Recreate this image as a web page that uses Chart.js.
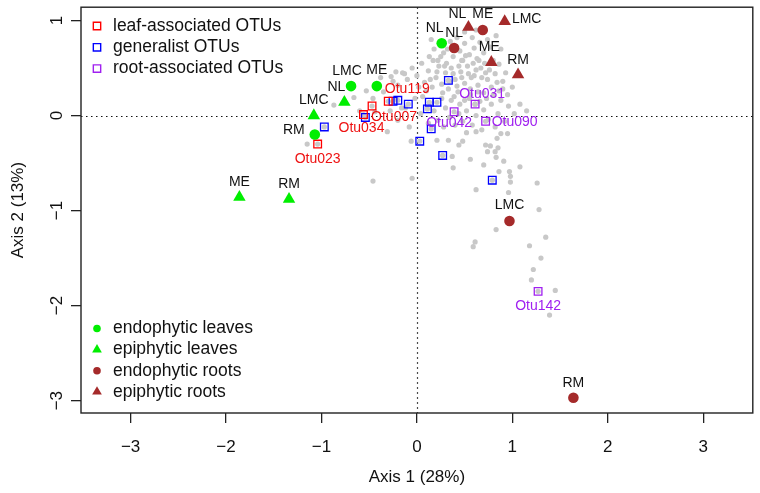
<!DOCTYPE html>
<html>
<head>
<meta charset="utf-8">
<script src="https://cdn.jsdelivr.net/npm/chart.js@4.4.1/dist/chart.umd.min.js"></script>
<style>html,body{margin:0;padding:0;background:#fff}</style>
</head>
<body>
<canvas id="ordination" width="760" height="493"></canvas>
<script>
// axis ticks
const xTicks = [-3, -2, -1, 0, 1, 2, 3];
const yTicks = [-3, -2, -1, 0, 1];

// sample scores (site order: LMC, ME, NL, RM)
const sites = ['LMC', 'ME', 'NL', 'RM'];
const endoLeaves = [[-0.69, 0.31], [-0.42, 0.31], [0.26, 0.76], [-1.07, -0.20]];
const epiLeaves = [[-1.08, 0.00], [-1.86, -0.86], [-0.76, 0.14], [-1.34, -0.88]];
const endoRoots = [[0.97, -1.11], [0.69, 0.90], [0.39, 0.71], [1.64, -2.97]];
const epiRoots = [[0.92, 0.99], [0.78, 0.56], [0.54, 0.93], [1.06, 0.43]];

// highlighted OTUs
const leafOtuNames = ['Otu023', 'Otu034', 'Otu007', 'Otu119'];
const leafOtus = [[-1.04, -0.30], [-0.56, 0.01], [-0.47, 0.10], [-0.30, 0.15]];
const rootOtuNames = ['Otu031', 'Otu042', 'Otu090', 'Otu142'];
const rootOtus = [[0.61, 0.12], [0.39, 0.04], [0.72, -0.06], [1.27, -1.85]];
const generalistOtus = [
  [-0.97, -0.12], [-0.54, -0.02], [-0.25, 0.15], [-0.20, 0.16], [-0.09, 0.12],
  [0.13, 0.14], [0.21, 0.14], [0.11, 0.07], [0.33, 0.37], [0.15, -0.14],
  [0.03, -0.27], [0.27, -0.42], [0.79, -0.68]
];

// all other OTU scores
const otherOtus = [
  [0.13, 0.62], [0.18, 0.70], [0.22, 0.58], [0.28, 0.66], [0.31, 0.55], [0.35, 0.78],
  [0.38, 0.62], [0.42, 0.82], [0.45, 0.68], [0.48, 0.58], [0.50, 0.76], [0.55, 0.64],
  [0.58, 0.82], [0.60, 0.71], [0.63, 0.60], [0.66, 0.77], [0.70, 0.66], [0.74, 0.80],
  [0.77, 0.72], [0.83, 0.84], [0.15, 0.80], [0.62, 0.90], [0.88, 0.70], [0.50, 0.88],
  [-0.15, 0.45], [-0.10, 0.38], [-0.05, 0.50], [0.00, 0.42], [0.05, 0.55], [0.08, 0.35],
  [0.12, 0.47], [0.16, 0.30], [0.20, 0.40], [0.23, 0.52], [0.26, 0.33], [0.30, 0.45],
  [0.33, 0.28], [0.36, 0.50], [0.40, 0.38], [0.43, 0.25], [0.46, 0.46], [0.50, 0.34],
  [0.53, 0.52], [0.56, 0.28], [0.60, 0.42], [0.64, 0.32], [0.67, 0.50], [0.70, 0.24],
  [0.74, 0.38], [0.78, 0.30], [0.82, 0.44], [0.86, 0.26], [0.90, 0.36], [0.95, 0.22],
  [1.00, 0.30], [0.57, 0.40], [0.47, 0.58], [0.27, 0.24], [0.10, 0.26], [-0.20, 0.32],
  [0.02, 0.30], [0.38, 0.44], [0.65, 0.58], [0.72, 0.45],
  [0.25, 0.62], [0.32, 0.70], [0.41, 0.72], [0.44, 0.52], [0.51, 0.63], [0.54, 0.44],
  [0.59, 0.55], [0.62, 0.48], [0.68, 0.40], [0.71, 0.55], [0.76, 0.48], [0.80, 0.58],
  [0.84, 0.35], [0.34, 0.36], [0.29, 0.52], [0.21, 0.46], [0.17, 0.58], [0.14, 0.38],
  [0.47, 0.40], [0.56, 0.22], [0.61, 0.12], [0.73, 0.18], [0.80, 0.22], [0.90, 0.28],
  [0.93, 0.45], [0.42, 0.31], [0.39, 0.20], [0.50, 0.16], [0.64, 0.25], [0.86, 0.54],
  [-0.28, 0.05], [-0.20, -0.05], [-0.12, 0.08], [-0.08, -0.12], [-0.02, 0.18], [0.04, 0.02],
  [0.06, 0.20], [0.18, 0.05], [0.22, -0.05], [0.26, 0.18], [0.30, 0.08], [0.34, -0.02],
  [0.36, 0.16], [0.45, 0.12], [0.48, -0.06], [0.52, 0.05], [0.55, 0.18], [0.58, -0.10],
  [0.62, 0.00], [0.66, 0.15], [0.70, 0.06], [0.75, -0.04], [0.78, 0.12], [0.82, -0.12],
  [0.85, 0.02], [0.88, 0.16], [0.92, -0.06], [0.96, 0.10], [1.02, 0.02], [1.08, 0.12],
  [1.15, 0.05], [0.40, -0.10], [0.28, -0.12], [0.12, -0.08], [0.68, -0.15], [0.44, 0.02],
  [-1.15, -0.30], [-0.87, 0.11], [-0.66, 0.19], [-0.53, 0.26], [-0.46, 0.18], [-0.44, 0.04],
  [-0.31, -0.17], [-0.25, 0.36], [-0.38, 0.40], [-0.60, 0.05], [-0.22, 0.18], [-0.35, 0.25],
  [-0.46, -0.69], [-0.05, -0.66], [-0.16, 0.08], [-0.27, 0.41], [-0.22, 0.46], [-0.13, 0.44],
  [-0.06, -0.27], [0.21, -0.26], [0.33, -0.26], [0.48, -0.27], [0.44, -0.31], [0.52, -0.18],
  [0.62, -0.17], [0.72, -0.31], [0.77, -0.32], [0.85, -0.34], [0.84, -0.24], [0.88, -0.19],
  [0.95, -0.19], [0.74, -0.38], [0.82, -0.38], [0.83, -0.44], [0.37, -0.43], [0.56, -0.46],
  [0.70, -0.52], [0.91, -0.48], [0.38, -0.55], [1.08, -0.54], [0.86, -0.59], [0.97, -0.59],
  [0.98, -0.64], [0.98, -0.70], [1.26, -0.71], [0.62, -0.78], [0.96, -0.81], [1.28, -0.99],
  [0.83, -1.20], [1.35, -1.28], [0.61, -1.33], [0.59, -1.38], [1.18, -1.37], [1.30, -1.50],
  [1.22, -1.62], [1.20, -1.73], [1.45, -1.84], [1.39, -2.10]
];

const FONT = "'Liberation Sans', Arial, Helvetica, sans-serif";
const GREEN = '#00ee00', BROWN = '#a52a2a', GREY = '#c8c8c8';
const toXY = pts => pts.map(p => ({x: p[0], y: p[1]}));
const fmt = v => (v < 0 ? '\u2212' + Math.abs(v) : String(v));

// label offsets in pixels (dx, dy) from each point
const offEndoLeaves = [[-4, -15], [0, -16], [-7, -15], [-21, -4]];
const offEpiLeaves = [[0, -15], [0, -15], [-8, -15], [0, -15]];
const offEndoRoots = [[0, -16], [0, -16], [0, -15], [0, -15]];
const offEpiRoots = [[22, -2], [-2, -15], [-11, -13], [0, -15]];
const offLeafOtus = [[0, 15], [-2, 14], [22, 11], [19, -12]];
const offRootOtus = [[7, -10], [-5, 11], [29, 1], [0, 15]];

const datasets = [
  {label: 'OTUs', data: toXY(otherOtus.concat(generalistOtus, leafOtus, rootOtus)),
   pointStyle: 'circle', pointRadius: 2.6, backgroundColor: GREY, borderWidth: 0, order: 10},
  {label: 'leaf-associated OTUs', data: toXY(leafOtus), pointStyle: 'rect', pointRadius: 5.4,
   backgroundColor: 'rgba(0,0,0,0)', borderColor: '#ff0000', borderWidth: 1.3, order: 5,
   names: leafOtuNames, offsets: offLeafOtus, textColor: '#ee1111', legendTop: 0},
  {label: 'generalist OTUs', data: toXY(generalistOtus), pointStyle: 'rect', pointRadius: 5.4,
   backgroundColor: 'rgba(0,0,0,0)', borderColor: '#0000ff', borderWidth: 1.3, order: 5, legendTop: 1},
  {label: 'root-associated OTUs', data: toXY(rootOtus), pointStyle: 'rect', pointRadius: 5.4,
   backgroundColor: 'rgba(0,0,0,0)', borderColor: '#a020f0', borderWidth: 1.3, order: 5,
   names: rootOtuNames, offsets: offRootOtus, textColor: '#a020f0', legendTop: 2},
  {label: 'endophytic leaves', data: toXY(endoLeaves), pointStyle: 'circle', pointRadius: 5.3,
   backgroundColor: GREEN, borderWidth: 0, order: 1, names: sites, offsets: offEndoLeaves, legendBottom: 0},
  {label: 'epiphytic leaves', data: toXY(epiLeaves), pointStyle: 'triangle', pointRadius: 7.2,
   backgroundColor: GREEN, borderWidth: 0, order: 1, names: sites, offsets: offEpiLeaves, legendBottom: 1},
  {label: 'endophytic roots', data: toXY(endoRoots), pointStyle: 'circle', pointRadius: 5.3,
   backgroundColor: BROWN, borderWidth: 0, order: 1, names: sites, offsets: offEndoRoots, legendBottom: 2},
  {label: 'epiphytic roots', data: toXY(epiRoots), pointStyle: 'triangle', pointRadius: 7.2,
   backgroundColor: BROWN, borderWidth: 0, order: 1, names: sites, offsets: offEpiRoots, legendBottom: 3}
];

const framePlugin = {
  id: 'frame',
  beforeDatasetsDraw(chart) {
    const {ctx, chartArea: a, scales: {x, y}} = chart;
    ctx.save();
    ctx.strokeStyle = '#111';
    ctx.lineWidth = 1.2;
    ctx.setLineDash([1.5, 3.5]);
    const x0 = Math.round(x.getPixelForValue(0)) + 0.5;
    const y0 = Math.round(y.getPixelForValue(0)) + 0.5;
    ctx.beginPath();
    ctx.moveTo(x0, a.top); ctx.lineTo(x0, a.bottom);
    ctx.moveTo(a.left, y0); ctx.lineTo(a.right, y0);
    ctx.stroke();
    ctx.restore();
  },
  afterDraw(chart) {
    const {ctx, chartArea: a, scales: {y}} = chart;
    ctx.save();
    // box
    ctx.strokeStyle = '#222';
    ctx.lineWidth = 1.4;
    ctx.strokeRect(a.left, a.top, a.right - a.left, a.bottom - a.top);
    // vertical y tick labels
    ctx.fillStyle = '#111';
    ctx.font = '17px ' + FONT;
    ctx.textAlign = 'center';
    ctx.textBaseline = 'middle';
    yTicks.forEach(v => {
      ctx.save();
      ctx.translate(57, y.getPixelForValue(v));
      ctx.rotate(-Math.PI / 2);
      ctx.fillText(fmt(v), 0, 0);
      ctx.restore();
    });
    // point labels
    ctx.font = '14px ' + FONT;
    chart.data.datasets.forEach((ds, i) => {
      if (!ds.names) return;
      const meta = chart.getDatasetMeta(i);
      ctx.fillStyle = ds.textColor || '#111';
      meta.data.forEach((el, j) => {
        const o = ds.offsets[j];
        ctx.fillText(ds.names[j], el.x + o[0], el.y + o[1]);
      });
    });
    // legends
    ctx.font = '17.5px ' + FONT;
    ctx.textAlign = 'left';
    chart.data.datasets.forEach(ds => {
      let yy = null, r = 0;
      if (ds.legendTop !== undefined) { yy = 26 + ds.legendTop * 21.3; r = 5.2; }
      if (ds.legendBottom !== undefined) {
        yy = 328.5 + ds.legendBottom * 21.1;
        r = ds.pointStyle === 'triangle' ? 5.6 : 3.8;
      }
      if (yy === null) return;
      ctx.fillStyle = ds.backgroundColor;
      ctx.strokeStyle = ds.borderColor || ds.backgroundColor;
      Chart.helpers.drawPoint(ctx, {pointStyle: ds.pointStyle, radius: r, rotation: 0,
        borderWidth: ds.borderWidth}, 97, yy);
      ctx.fillStyle = '#111';
      ctx.fillText(ds.label, 113, yy);
    });
    ctx.restore();
  }
};

const axisCommon = {
  grid: {drawOnChartArea: false, drawTicks: true, tickLength: 10, color: '#222', lineWidth: 1.3},
  border: {display: false}
};

new Chart(document.getElementById('ordination').getContext('2d'), {
  type: 'scatter',
  data: {datasets: datasets},
  options: {
    responsive: false,
    animation: false,
    events: [],
    layout: {padding: {top: 5, right: 5, left: 0, bottom: 0}},
    plugins: {legend: {display: false}, tooltip: {enabled: false}},
    scales: {
      x: Object.assign({}, axisCommon, {
        type: 'linear', min: -3.52, max: 3.52,
        afterBuildTicks: s => { s.ticks = xTicks.map(v => ({value: v})); },
        afterFit: s => { s.height = 80; },
        ticks: {color: '#111', font: {family: FONT, size: 17}, padding: 14, maxRotation: 0,
                autoSkip: false, callback: v => fmt(v)},
        title: {display: true, text: 'Axis 1 (28%)', color: '#111',
                font: {family: FONT, size: 17}, padding: {top: 0, bottom: 5}}
      }),
      y: Object.assign({}, axisCommon, {
        type: 'linear', min: -3.13, max: 1.14,
        afterBuildTicks: s => { s.ticks = yTicks.map(v => ({value: v})); },
        afterFit: s => { s.width = 81; },
        ticks: {display: false},
        title: {display: true, text: 'Axis 2 (13%)', color: '#111',
                font: {family: FONT, size: 17}, padding: {top: 8, bottom: 0}}
      })
    }
  },
  plugins: [framePlugin]
});
</script>
</body>
</html>
